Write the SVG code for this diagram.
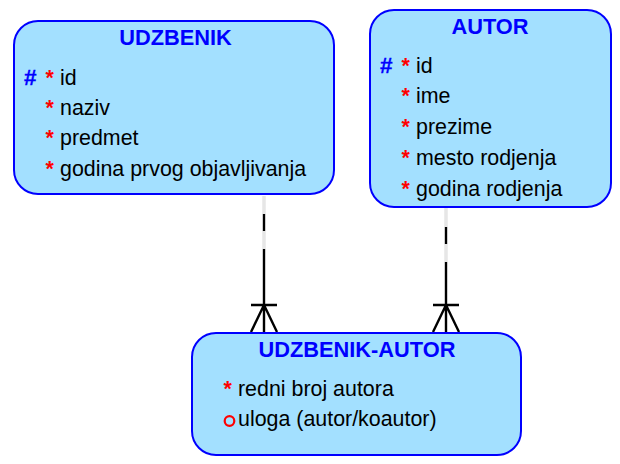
<svg xmlns="http://www.w3.org/2000/svg" width="620" height="464" viewBox="0 0 620 464">
<style>
.box{fill:#a3e0ff;stroke:#0000ff;stroke-width:2}
text{font-family:"Liberation Sans",Arial,sans-serif}
.t{font-size:21.8px;font-weight:bold;fill:#0000ff;text-anchor:middle}
.a{font-size:21.4px;fill:#000}
.s{font-size:21.33px;font-weight:bold;fill:#ff0000}
.h{font-size:22.5px;font-weight:bold;fill:#0000ff;stroke:#0000ff;stroke-width:.3}
.b{stroke:#000;stroke-width:2.4;fill:none}
.g{stroke:#c0c0c0;stroke-width:2.6;fill:none}
.w{stroke:#fff;stroke-width:1.2;fill:none}
</style>
<g id="connectors">
<path class="g" d="M264 196V214M264 231V249"/>
<path class="w" d="M264 196V214M264 231V249"/>
<path class="b" d="M264 214V231M264 249V332M251 305H277M264 305L251 332M264 305L277 332"/>
<path class="g" d="M446 208V227M446 244V262"/>
<path class="w" d="M446 208V227M446 244V262"/>
<path class="b" d="M446 227V244M446 262V332M433 305H459M446 305L433 332M446 305L459 332"/>
</g>
<g id="udzbenik">
<rect class="box" x="14" y="21" width="320" height="173" rx="24" ry="24"/>
<text class="t" x="175.500" y="44.500">UDZBENIK</text>
<text class="h" x="24" y="85">#</text>
<text class="s" x="45.500" y="85">*</text><text class="a" x="60" y="85">id</text>
<text class="s" x="45.500" y="115">*</text><text class="a" x="60" y="115">naziv</text>
<text class="s" x="45.500" y="145">*</text><text class="a" x="60" y="145">predmet</text>
<text class="s" x="45.500" y="176">*</text><text class="a" x="60" y="176">godina prvog objavljivanja</text>
</g>
<g id="autor">
<rect class="box" x="370" y="10" width="241" height="197" rx="24" ry="24"/>
<text class="t" x="490" y="34">AUTOR</text>
<text class="h" x="380" y="73">#</text>
<text class="s" x="401.500" y="73">*</text><text class="a" x="416" y="73">id</text>
<text class="s" x="401.500" y="103">*</text><text class="a" x="416" y="103">ime</text>
<text class="s" x="401.500" y="134">*</text><text class="a" x="416" y="134">prezime</text>
<text class="s" x="401.500" y="165">*</text><text class="a" x="416" y="165">mesto rodjenja</text>
<text class="s" x="401.500" y="196">*</text><text class="a" x="416" y="196">godina rodjenja</text>
</g>
<g id="udzbenik-autor">
<rect class="box" x="192" y="333" width="329" height="122" rx="24" ry="24"/>
<text class="t" x="357" y="356.500">UDZBENIK-AUTOR</text>
<text class="s" x="223.500" y="396">*</text><text class="a" x="238" y="396">redni broj autora</text>
<circle cx="229.500" cy="421" r="4.8" fill="none" stroke="#ff0000" stroke-width="2.2"/>
<text class="a" x="238" y="426">uloga (autor/koautor)</text>
</g>
</svg>
